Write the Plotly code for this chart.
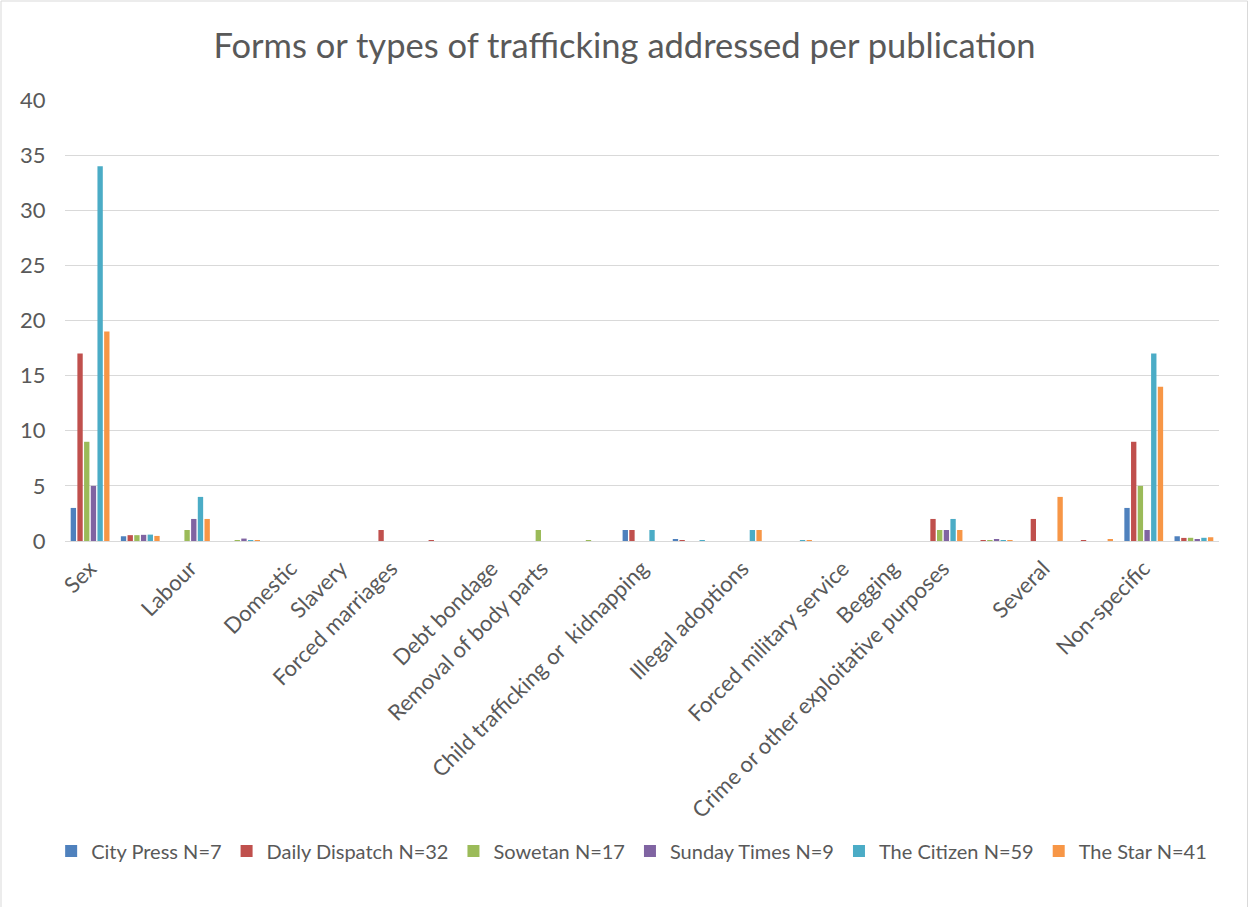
import plotly.graph_objects as go

# 23 data rows: each labelled form is followed (when non-empty) by an unlabelled share row
categories = [
    "Sex", "Sex (share)", "Labour", "Labour (share)", "Domestic", "Slavery",
    "Forced marriages", "Forced marriages (share)", "Debt bondage",
    "Removal of body parts", "Removal of body parts (share)",
    "Child trafficking or  kidnapping", "Child trafficking (share)",
    "Illegal adoptions", "Illegal adoptions (share)", "Forced military service",
    "Begging", "Crime or other exploitative purposes", "Crime (share)",
    "Several", "Several (share)", "Non-specific", "Non-specific (share)",
]

city_press     = [3, 0.43, 0, 0,    0, 0, 0, 0,    0, 0, 0,    1, 0.14, 0, 0,    0, 0, 0, 0,    0, 0,    3, 0.43]
daily_dispatch = [17, 0.53, 0, 0,   0, 0, 1, 0.03, 0, 0, 0,    1, 0.03, 0, 0,    0, 0, 2, 0.06, 2, 0.06, 9, 0.28]
sowetan        = [9, 0.53, 1, 0.06, 0, 0, 0, 0,    0, 1, 0.06, 0, 0,    0, 0,    0, 0, 1, 0.06, 0, 0,    5, 0.29]
sunday_times   = [5, 0.56, 2, 0.22, 0, 0, 0, 0,    0, 0, 0,    0, 0,    0, 0,    0, 0, 1, 0.11, 0, 0,    1, 0.11]
the_citizen    = [34, 0.58, 4, 0.07, 0, 0, 0, 0,   0, 0, 0,    1, 0.02, 1, 0.02, 0, 0, 2, 0.03, 0, 0,    17, 0.29]
the_star       = [19, 0.46, 2, 0.05, 0, 0, 0, 0,   0, 0, 0,    0, 0,    1, 0.02, 0, 0, 1, 0.02, 4, 0.1,  14, 0.34]

series_names = ["City Press N=7", "Daily Dispatch N=32", "Sowetan N=17",
                "Sunday Times N=9", "The Citizen N=59", "The Star N=41"]
series_values = [city_press, daily_dispatch, sowetan, sunday_times, the_citizen, the_star]
colors = ["#4F81BD", "#C0504D", "#9BBB59", "#8064A2", "#4BACC6", "#F79646"]

# categories that carry a printed label on the axis
x_labels = ["Sex", "Labour", "Domestic", "Slavery", "Forced marriages", "Debt bondage",
            "Removal of body parts", "Child trafficking or  kidnapping", "Illegal adoptions",
            "Forced military service", "Begging", "Crime or other exploitative purposes",
            "Several", "Non-specific"]

y_ticks = [0, 5, 10, 15, 20, 25, 30, 35, 40]

FONT = "Lato"
GREY = "#595959"

fig = go.Figure()
for name, vals, col in zip(series_names, series_values, colors):
    fig.add_trace(go.Bar(x=categories, y=vals, name=name,
                         marker_color=col, marker_line_width=0))

fig.update_layout(
    width=1249, height=907,
    margin=dict(l=65, r=30, t=100, b=366, autoexpand=False),
    paper_bgcolor="white", plot_bgcolor="white",
    barmode="group", bargap=0.2, bargroupgap=0.2,
    title=dict(text="Forms or types of trafficking addressed per publication",
               x=0.5, xref="container", xanchor="center",
               y=1 - 46 / 907, yref="container", yanchor="middle",
               font=dict(family=FONT, size=34.5, color=GREY)),
    font=dict(family=FONT, color=GREY),
    legend=dict(orientation="h", x=-0.012, xanchor="left", y=-0.703, yanchor="middle",
                font=dict(family=FONT, size=20, color=GREY),
                itemwidth=30, traceorder="normal", bgcolor="rgba(0,0,0,0)"),
    showlegend=True,
)
fig.update_xaxes(
    type="category", categoryorder="array", categoryarray=categories,
    tickmode="array", tickvals=x_labels, ticktext=x_labels,
    tickangle=-45, tickfont=dict(family=FONT, size=22, color=GREY),
    ticks="outside", ticklen=5, tickcolor="rgba(0,0,0,0)",
    showgrid=False, zeroline=False, showline=True, linecolor="#D9D9D9", linewidth=1,
    automargin=False,
)
fig.update_yaxes(
    range=[0, 40], tickmode="array", tickvals=y_ticks,
    tickfont=dict(family=FONT, size=22, color=GREY),
    ticks="outside", ticklen=14, tickcolor="rgba(0,0,0,0)",
    showgrid=True, gridcolor="#D9D9D9", gridwidth=1,
    zeroline=False, showline=False, automargin=False,
)
# outer chart border
fig.add_shape(type="rect", xref="paper", yref="paper",
              x0=(1 - 65) / 1154, x1=(1247.5 - 65) / 1154,
              y0=(541 - 915) / 441, y1=(541 - 1) / 441,
              line=dict(color="#D9D9D9", width=1), fillcolor="rgba(0,0,0,0)", layer="below")

fig.write_html("out.html")
